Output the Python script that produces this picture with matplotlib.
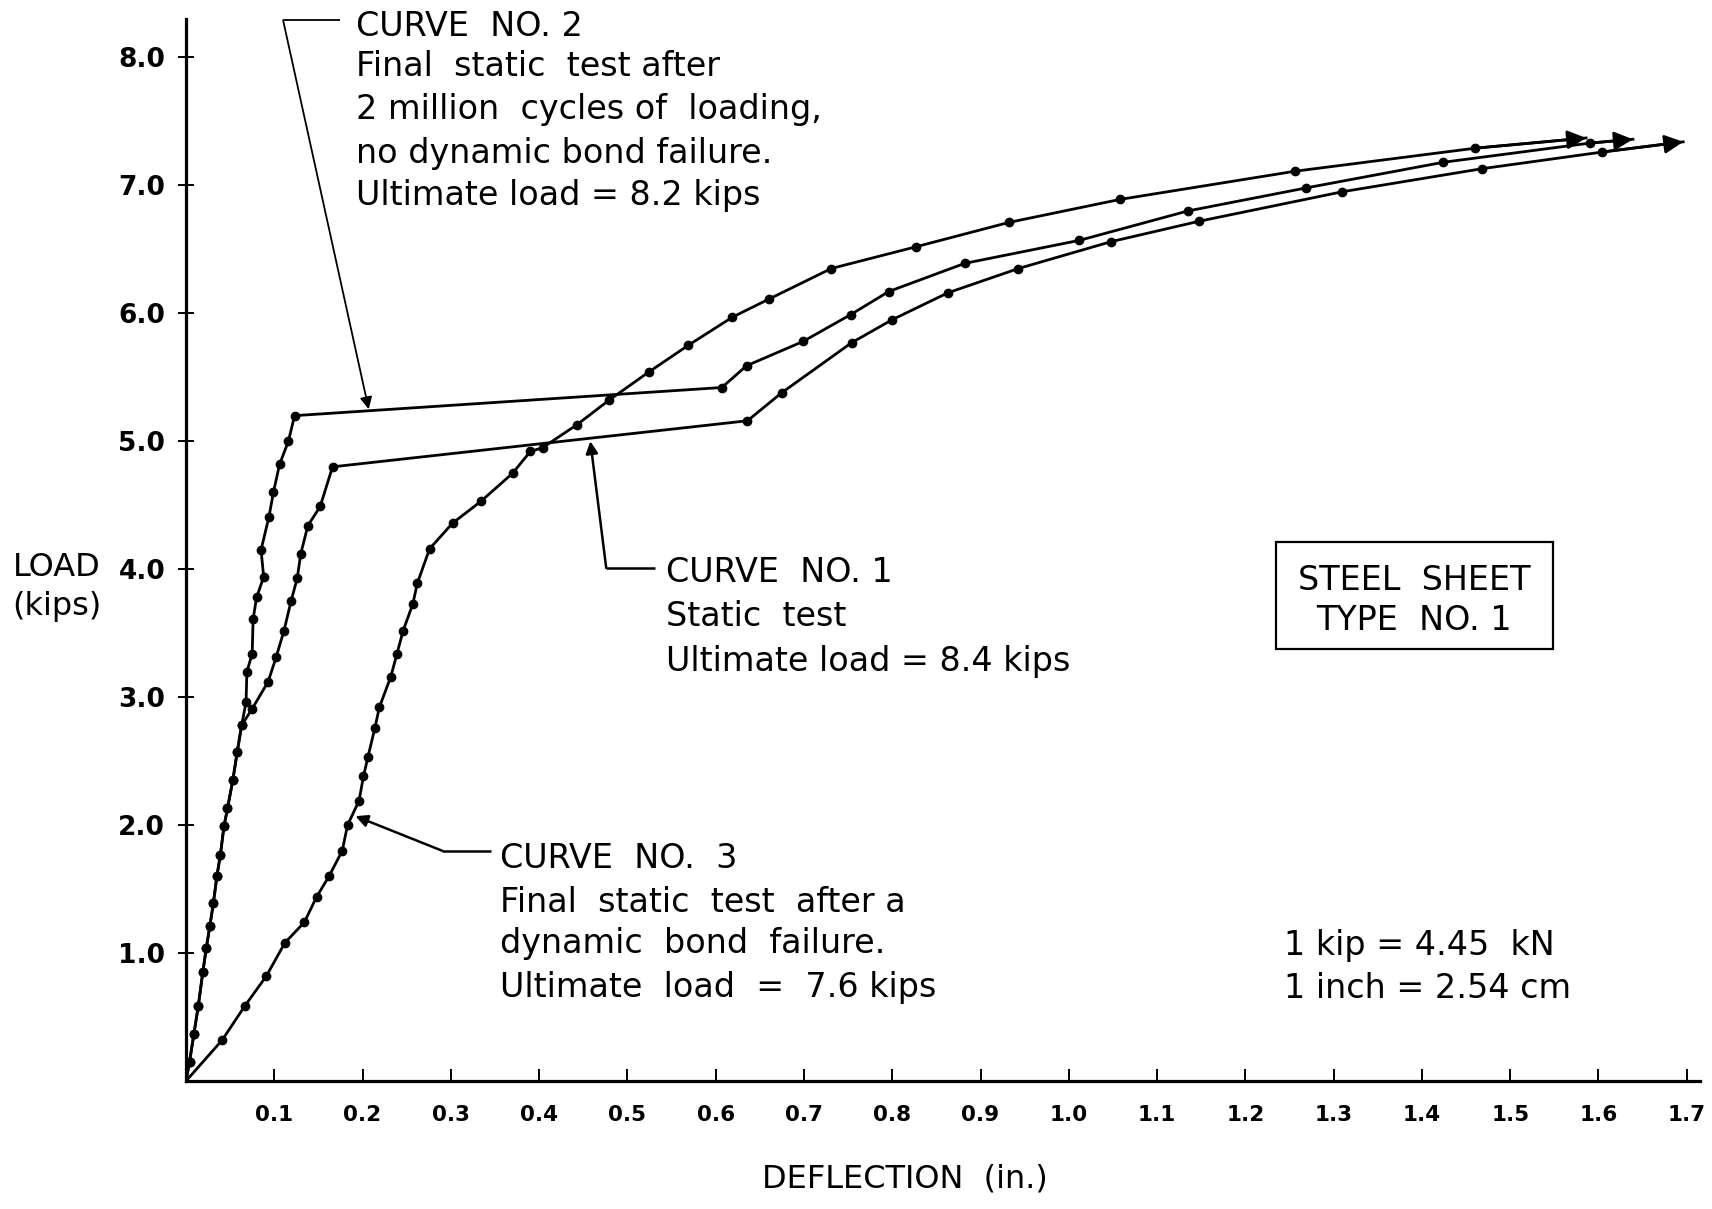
import matplotlib
matplotlib.use("Agg")
import matplotlib.pyplot as plt
from matplotlib.patches import Rectangle

plt.rcParams['font.family'] = ['DejaVu Sans']

# ---------------- data ----------------
# Curve No. 1 : static test
curve1_x = [0.0, 0.004, 0.009, 0.014, 0.019, 0.023, 0.027, 0.031, 0.035, 0.039, 0.043,
            0.047, 0.053, 0.058, 0.063, 0.075, 0.093, 0.102,
            0.111, 0.119, 0.126, 0.130, 0.138, 0.152, 0.166, 0.636, 0.675, 0.754, 0.800,
            0.863, 0.943, 1.048, 1.148, 1.310, 1.468, 1.604, 1.696]
curve1_y = [0.0, 0.15, 0.37, 0.59, 0.85, 1.04, 1.21, 1.39, 1.60, 1.77, 1.99,
            2.13, 2.35, 2.57, 2.78, 2.91, 3.12, 3.31,
            3.52, 3.75, 3.93, 4.12, 4.34, 4.49, 4.80, 5.16, 5.38, 5.77, 5.95,
            6.16, 6.35, 6.56, 6.72, 6.95, 7.13, 7.26, 7.34]

# Curve No. 2 : final static test after 2 million cycles
curve2_x = [0.0, 0.004, 0.009, 0.014, 0.019, 0.023, 0.027, 0.031, 0.035, 0.039, 0.043,
            0.047, 0.053, 0.058, 0.063, 0.068, 0.069, 0.075,
            0.076, 0.080, 0.088, 0.085, 0.094, 0.099, 0.106, 0.116, 0.123, 0.607, 0.635,
            0.699, 0.753, 0.796, 0.882, 1.012, 1.135, 1.269, 1.424, 1.590, 1.639]
curve2_y = [0.0, 0.15, 0.37, 0.59, 0.85, 1.04, 1.21, 1.39, 1.60, 1.77, 1.99,
            2.13, 2.35, 2.57, 2.78, 2.96, 3.20, 3.34,
            3.61, 3.78, 3.94, 4.15, 4.41, 4.60, 4.82, 5.00, 5.20, 5.42, 5.59,
            5.78, 5.99, 6.17, 6.39, 6.57, 6.80, 6.98, 7.18, 7.33, 7.36]

# Curve No. 3 : final static test after a dynamic bond failure
curve3_x = [0.0, 0.041, 0.067, 0.091, 0.112, 0.134, 0.148, 0.162, 0.177, 0.183, 0.196,
            0.201, 0.206, 0.214, 0.219, 0.232, 0.239, 0.246, 0.257, 0.262, 0.276, 0.302,
            0.334, 0.370, 0.390, 0.404, 0.443, 0.479, 0.524, 0.569, 0.619, 0.660, 0.731,
            0.827, 0.932, 1.058, 1.256, 1.460, 1.586]
curve3_y = [0.0, 0.32, 0.59, 0.82, 1.08, 1.24, 1.44, 1.60, 1.80, 2.00, 2.19,
            2.38, 2.53, 2.76, 2.92, 3.16, 3.34, 3.52, 3.73, 3.89, 4.16, 4.36,
            4.53, 4.75, 4.92, 4.95, 5.13, 5.32, 5.54, 5.75, 5.97, 6.11, 6.35,
            6.52, 6.71, 6.89, 7.11, 7.29, 7.37]

x_ticks = [0.1, 0.2, 0.3, 0.4, 0.5, 0.6, 0.7, 0.8, 0.9, 1.0, 1.1, 1.2, 1.3, 1.4, 1.5, 1.6, 1.7]
x_tick_labels = ["0.1", "0.2", "0.3", "0.4", "0.5", "0.6", "0.7", "0.8", "0.9",
                 "1.0", "1.1", "1.2", "1.3", "1.4", "1.5", "1.6", "1.7"]
y_ticks = [1.0, 2.0, 3.0, 4.0, 5.0, 6.0, 7.0, 8.0]
y_tick_labels = ["1.0", "2.0", "3.0", "4.0", "5.0", "6.0", "7.0", "8.0"]

curve2_note = ["CURVE  NO. 2", "Final  static  test after", "2 million  cycles of  loading,",
               "no dynamic bond failure.", "Ultimate load = 8.2 kips"]
curve1_note = ["CURVE  NO. 1", "Static  test", "Ultimate load = 8.4 kips"]
curve3_note = ["CURVE  NO.  3", "Final  static  test  after a", "dynamic  bond  failure.",
               "Ultimate  load  =  7.6 kips"]
box_note = ["STEEL  SHEET", "TYPE  NO. 1"]
unit_note = ["1 kip = 4.45  kN", "1 inch = 2.54 cm"]

# ---------------- figure ----------------
W, H = 1712, 1209
fig = plt.figure(figsize=(W / 100, H / 100), dpi=100)
fig.patch.set_facecolor("white")
ax = fig.add_axes([186 / W, 1 - 1081 / H, (1700 - 186) / W, (1081 - 19) / H])
ax.set_xlim(0, 1.715)
ax.set_ylim(0, 8.3)

for s in ["top", "right"]:
    ax.spines[s].set_visible(False)
for s in ["left", "bottom"]:
    ax.spines[s].set_linewidth(2.3)

ax.set_xticks(x_ticks)
ax.set_xticklabels(x_tick_labels, fontweight="bold")
ax.set_yticks(y_ticks)
ax.set_yticklabels(y_tick_labels, fontweight="bold")
ax.tick_params(axis="x", direction="in", length=9, width=1.4, pad=17, labelsize=15.5)
ax.tick_params(axis="y", direction="inout", length=12, width=1.4, pad=9, labelsize=19)

LW = 2.0
for cx, cy in [(curve1_x, curve1_y), (curve2_x, curve2_y), (curve3_x, curve3_y)]:
    ax.plot(cx, cy, color="black", lw=LW, solid_joinstyle="round", zorder=3)
    ax.plot(cx[1:-1], cy[1:-1], "o", color="black", ms=6, zorder=4)
    ax.annotate("", xy=(cx[-1], cy[-1]), xytext=(cx[-2], cy[-2]),
                arrowprops=dict(arrowstyle="-|>", color="black", lw=LW,
                                mutation_scale=28, shrinkA=0, shrinkB=0), zorder=5)

# ---------------- leaders ----------------
def leader(p_end, p_corner, p_tip, lw):
    ax.plot([p_end[0], p_corner[0]], [p_end[1], p_corner[1]], color="black", lw=lw,
            clip_on=False, solid_capstyle="butt")
    ax.annotate("", xy=p_tip, xytext=p_corner, annotation_clip=False,
                arrowprops=dict(arrowstyle="-|>", color="black", lw=lw,
                                mutation_scale=18, shrinkA=0, shrinkB=0))

leader((0.174, 8.29), (0.110, 8.29), (0.207, 5.25), 1.3)
leader((0.531, 4.01), (0.476, 4.01), (0.458, 5.00), 1.8)
leader((0.345, 1.80), (0.290, 1.80), (0.192, 2.07), 1.8)

# ---------------- texts ----------------
def T(xpx, ypx, s, size=24, ha="left"):
    fig.text(xpx / W, 1 - ypx / H, s, fontsize=size, ha=ha, va="center")

for s, y in zip(curve2_note, [27, 67, 109, 153, 196]):
    T(356, y, s)
for s, y in zip(curve1_note, [573, 617, 661]):
    T(666, y, s)
for s, y in zip(curve3_note, [859, 903, 944, 988]):
    T(500, y, s)
for s, y in zip(box_note, [580, 621]):
    T(1414, y, s, size=24, ha="center")
for s, y in zip(unit_note, [945, 988]):
    T(1284, y, s)

fig.patches.append(Rectangle((1276 / W, 1 - 649 / H), (1553 - 1276) / W, (649 - 542) / H,
                             transform=fig.transFigure, fill=False, lw=1.6, edgecolor="black"))

T(57, 568, "LOAD", size=23, ha="center")
T(57, 606, "(kips)", size=23, ha="center")
T(905, 1179, "DEFLECTION  (in.)", size=23, ha="center")

fig.savefig("out.png", dpi=100, facecolor="white")
